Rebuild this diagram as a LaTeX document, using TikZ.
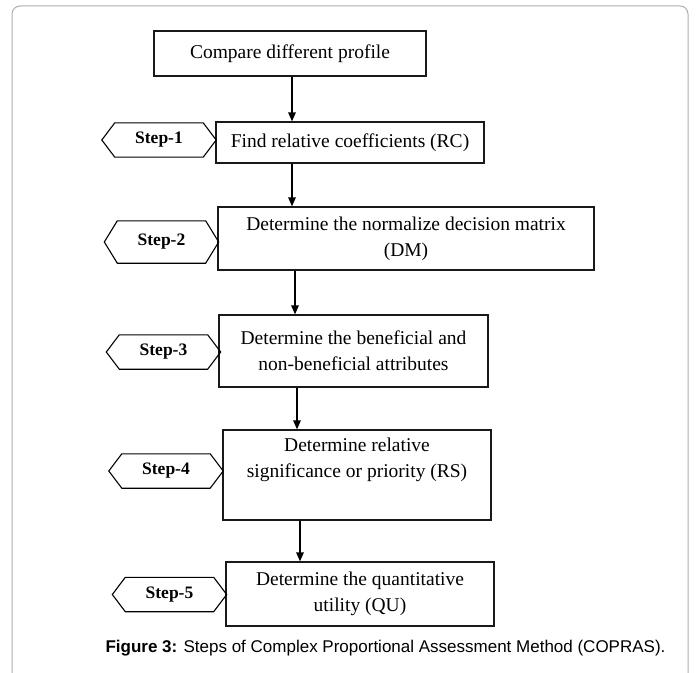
\documentclass[tikz,border=0pt]{standalone}
\usepackage{fontspec}
\setmainfont{Liberation Serif}
\newfontfamily\capfont{Liberation Sans}
\usetikzlibrary{arrows.meta}
\tikzset{
  box/.style={draw=black!90, line width=1.2bp, fill=white, inner sep=0pt, align=center,
    font=\fontsize{19.5bp}{26bp}\selectfont},
  hexcore/.style={inner sep=0pt, minimum height=34bp, minimum width=88bp,
    font=\fontsize{17.5bp}{20bp}\selectfont\bfseries},
  hexline/.style={draw=black, line width=1.1bp, line join=miter},
  arr/.style={draw=black, line width=1.3bp, -{Triangle[length=9bp,width=7.5bp]}},
  frame/.style={draw=black!32, line width=1bp, rounded corners=8bp}
}
\begin{document}
\begin{tikzpicture}[x=1bp,y=-1bp]
\useasboundingbox (0,0) rectangle (696,673);
\begin{scope}
\clip (0,0) rectangle (696,673);
\draw[frame] (12,6) rectangle (688,682);
\end{scope}

% main boxes
\node[box, minimum width=272bp, minimum height=45bp] (b0) at (290,53.5) {Compare different profile};
\node[box, minimum width=268bp, minimum height=41bp] (b1) at (350,142.5) {Find relative coefficients (RC)};
\node[box, minimum width=376bp, minimum height=63bp] (b2) at (406,238.5) {Determine the normalize decision matrix\\(DM)};
\node[box, minimum width=269bp, minimum height=72bp] (b3) at (353.5,351) {Determine the beneficial and\\non-beneficial attributes};
\node[box, minimum width=268bp, minimum height=90bp] (b4) at (357,475) {Determine relative\\significance or priority (RS)\\\strut};
\node[box, minimum width=268bp, minimum height=64bp] (b5) at (360,594) {Determine the quantitative\\utility (QU)};

% arrow columns
\coordinate (c1) at (292,0);
\coordinate (c2) at (292,0);
\coordinate (c3) at (295,0);
\coordinate (c4) at (297,0);
\coordinate (c5) at (300,0);
\draw[arr] (b0.south -| c1) -- (b1.north -| c1);
\draw[arr] (b1.south -| c2) -- (b2.north -| c2);
\draw[arr] (b2.south -| c3) -- (b3.north -| c3);
\draw[arr] (b3.south -| c4) -- (b4.north -| c4);
\draw[arr] (b4.south -| c5) -- (b5.north -| c5);

% step hexagons
\node[hexcore] (s1) at (159,140) {Step-1};
\node[hexcore, minimum height=42bp] (s2) at (161.5,242) {Step-2};
\node[hexcore] (s3) at (163.5,352) {Step-3};
\node[hexcore] (s4) at (166,471) {Step-4};
\node[hexcore] (s5) at (169.5,594.5) {Step-5};
\foreach \s in {s1,s2,s3,s4,s5}{
  \draw[hexline] (\s.north west) -- (\s.north east) -- ([xshift=13bp]\s.east)
    -- (\s.south east) -- (\s.south west) -- ([xshift=-13bp]\s.west) -- cycle;
}

% caption
\node[anchor=base, inner sep=0pt, font=\capfont\fontsize{17bp}{20bp}\selectfont] (cap) at (385.5,652)
  {{\bfseries Figure 3:} Steps of Complex Proportional Assessment Method (COPRAS).};
\end{tikzpicture}
\end{document}
